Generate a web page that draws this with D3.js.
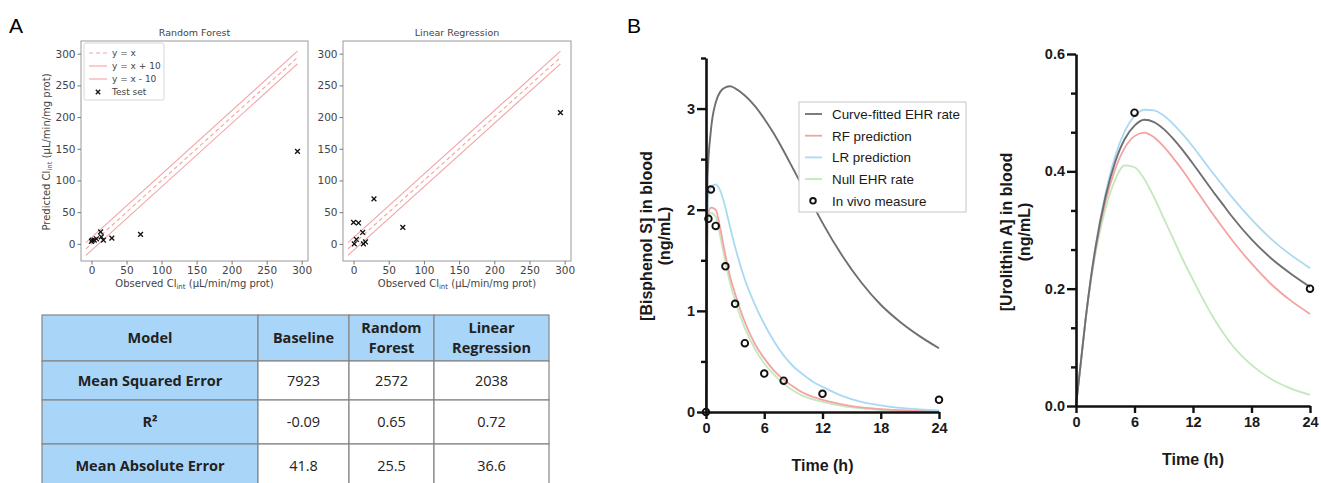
<!DOCTYPE html>
<html>
<head>
<meta charset="UTF-8">
<title>CLint prediction and PK simulation</title>
<script src="https://d3js.org/d3.v7.min.js"></script>
<style>
  body {margin:0; background:#fff;}
  svg {display:block;}
  .mpl text {font-family:"DejaVu Sans", sans-serif; fill:#444;}
  .prism text {font-family:"Liberation Sans", Arial, sans-serif; font-weight:bold; fill:#1a1a1a;}
  .tbl text {font-family:"Open Sans", Lato, sans-serif; fill:#222;}
</style>
</head>
<body>
<div id="fig"></div>
<script>

// ---- panel A: observed vs predicted CLint (test set)
var observed    = [0, 1, 4, 7, 13, 14, 17, 29, 70, 294];
var rfPredicted = [4, 6, 6, 8, 19, 11, 6, 9, 15, 146];
var lrPredicted = [34, 0, 7, 33, 18, 0, 3, 71, 26, 207];
var refOffsets  = [0, 10, -10];
var refSpan     = [-8, 294];
var clTicks     = [0, 50, 100, 150, 200, 250, 300];
var clLegend    = ["y = x", "y = x + 10", "y = x - 10", "Test set"];

// ---- panel A: metrics table
var tableHeader = ["Model", "Baseline", "Random\nForest", "Linear\nRegression"];
var metricNames = ["Mean Squared Error", "R²", "Mean Absolute Error"];
var baselineVals = ["7923", "-0.09", "41.8"];
var rfVals       = ["2572", "0.65", "25.5"];
var lrVals       = ["2038", "0.72", "36.6"];

// ---- panel B: Bisphenol S
var bpsTime  = [0, 0.15, 0.5, 1, 1.5, 2, 2.5, 3, 4, 5, 6, 7, 8, 9, 10, 11, 12, 14, 16, 18, 20, 22, 24];
var bpsFit   = [0, 2.3, 2.78, 3.06, 3.17, 3.21, 3.22, 3.2, 3.13, 3.03, 2.9, 2.75, 2.58, 2.4, 2.22, 2.05, 1.87, 1.55, 1.28, 1.06, 0.89, 0.75, 0.63];
var bpsRF    = [0, 1.9, 2.02, 2.0, 1.8, 1.55, 1.33, 1.17, 0.89, 0.68, 0.53, 0.41, 0.32, 0.25, 0.19, 0.15, 0.12, 0.075, 0.045, 0.028, 0.018, 0.011, 0.007];
var bpsLR    = [0, 2.1, 2.22, 2.25, 2.18, 2.02, 1.82, 1.63, 1.31, 1.07, 0.87, 0.7, 0.56, 0.45, 0.37, 0.3, 0.25, 0.16, 0.1, 0.065, 0.04, 0.025, 0.015];
var bpsNull  = [0, 1.88, 1.97, 1.93, 1.72, 1.48, 1.27, 1.1, 0.83, 0.63, 0.48, 0.37, 0.28, 0.21, 0.16, 0.125, 0.1, 0.06, 0.035, 0.02, 0.012, 0.007, 0.004];
var bpsObsTime = [0, 0.25, 0.5, 1, 2, 3, 4, 6, 8, 12, 24];
var bpsObs     = [0, 1.91, 2.2, 1.84, 1.44, 1.07, 0.68, 0.38, 0.31, 0.18, 0.12];

// ---- panel B: Urolithin A
var uroTime = [0, 0.5, 1, 1.5, 2, 3, 4, 5, 6, 7, 8, 9, 10, 11, 12, 13, 14, 15, 16, 18, 20, 22, 24];
var uroFit  = [0, 0.075, 0.15, 0.215, 0.27, 0.355, 0.415, 0.455, 0.478, 0.488, 0.484, 0.472, 0.455, 0.435, 0.413, 0.39, 0.367, 0.345, 0.323, 0.284, 0.252, 0.226, 0.203];
var uroRF   = [0, 0.075, 0.15, 0.213, 0.266, 0.347, 0.403, 0.44, 0.46, 0.466, 0.458, 0.442, 0.422, 0.4, 0.376, 0.352, 0.328, 0.305, 0.283, 0.243, 0.208, 0.18, 0.157];
var uroLR   = [0, 0.075, 0.15, 0.215, 0.272, 0.36, 0.425, 0.468, 0.494, 0.505, 0.504, 0.495, 0.48, 0.462, 0.442, 0.42, 0.398, 0.377, 0.356, 0.318, 0.285, 0.258, 0.235];
var uroNull = [0, 0.075, 0.148, 0.21, 0.26, 0.335, 0.385, 0.41, 0.407, 0.387, 0.356, 0.32, 0.284, 0.248, 0.215, 0.183, 0.153, 0.127, 0.104, 0.07, 0.046, 0.03, 0.019];
var uroObsTime = [6, 24];
var uroObs     = [0.50, 0.20];

var timeTicks = [0, 6, 12, 18, 24];
var seriesNames = ["Curve-fitted EHR rate", "RF prediction", "LR prediction", "Null EHR rate", "In vivo measure"];
var seriesColors = ["#6f6f6f", "#f2a3a3", "#a9d9f3", "#c4e8bd"];

var pink = "#f2a3a3";

var svg = d3.select("#fig").append("svg")
    .attr("width", 1321)
    .attr("height", 483);

svg.append("text").attr("x", 9).attr("y", 33)
    .style("font-family", "Liberation Sans, Arial, sans-serif").style("font-size", "21px").text("A");
svg.append("text").attr("x", 627).attr("y", 33)
    .style("font-family", "Liberation Sans, Arial, sans-serif").style("font-size", "21px").text("B");

// ---------- scatter panels
function scatter(title, pred, left, right, showLegend) {
    var g = svg.append("g").attr("class", "mpl");
    var x = d3.scaleLinear().domain([-15, 309]).range([left, right]);
    var y = d3.scaleLinear().domain([-27, 320]).range([261, 41]);

    var line = d3.line().x(function(d) {return x(d[0])}).y(function(d) {return y(d[1])});
    refOffsets.forEach(function(off) {
        g.append("path")
            .attr("d", line(refSpan.map(function(v) {return [v, v + off]})))
            .attr("fill", "none")
            .attr("stroke", pink)
            .attr("stroke-width", 1.1)
            .attr("stroke-dasharray", off == 0 ? "4,3" : null);
    });

    g.selectAll(".pt").data(observed).enter().append("path")
        .attr("class", "pt")
        .attr("transform", function(d, i) {return "translate(" + x(d) + "," + y(pred[i]) + ")"})
        .attr("d", "M-2.4,-2.4L2.4,2.4M-2.4,2.4L2.4,-2.4")
        .attr("stroke", "#111").attr("stroke-width", 1.3);

    g.append("rect").attr("x", left).attr("y", 41)
        .attr("width", right - left).attr("height", 220)
        .attr("fill", "none").attr("stroke", "#9a9a9a").attr("stroke-width", 1);

    var xa = g.append("g").attr("transform", "translate(0,261)")
        .call(d3.axisBottom(x).tickValues(clTicks).tickSize(3.5).tickPadding(2));
    var ya = g.append("g").attr("transform", "translate(" + left + ",0)")
        .call(d3.axisLeft(y).tickValues(clTicks).tickSize(3.5).tickPadding(2));
    [xa, ya].forEach(function(a) {
        a.select(".domain").remove();
        a.selectAll("line").attr("stroke", "#777");
        a.selectAll("text").style("font-size", "10.5px").style("font-family", null).attr("fill", "#444");
    });

    g.append("text").attr("x", (left + right) / 2).attr("y", 36)
        .attr("text-anchor", "middle").style("font-size", "9.5px").text(title);

    var xl = g.append("text").attr("x", (left + right) / 2).attr("y", 287)
        .attr("text-anchor", "middle").style("font-size", "10px");
    xl.append("tspan").text("Observed Cl");
    xl.append("tspan").attr("dy", 2).style("font-size", "7px").text("int");
    xl.append("tspan").attr("dy", -2).text(" (µL/min/mg prot)");

    if (showLegend) {
        var yl = g.append("text").attr("transform", "translate(50,152) rotate(-90)")
            .attr("text-anchor", "middle").style("font-size", "10px");
        yl.append("tspan").text("Predicted Cl");
        yl.append("tspan").attr("dy", 2).style("font-size", "7px").text("int");
        yl.append("tspan").attr("dy", -2).text(" (µL/min/mg prot)");

        var lg = g.append("g").attr("transform", "translate(84,43)");
        lg.append("rect").attr("width", 80).attr("height", 57).attr("rx", 2)
            .attr("fill", "#fff").attr("fill-opacity", 0.85).attr("stroke", "#d6d6d6");
        clLegend.forEach(function(name, i) {
            var yy = 10 + i * 13;
            if (i < 3) {
                lg.append("line").attr("x1", 5).attr("x2", 23).attr("y1", yy).attr("y2", yy)
                    .attr("stroke", pink).attr("stroke-width", 1.1)
                    .attr("stroke-dasharray", i == 0 ? "4,3" : null);
            } else {
                lg.append("path").attr("transform", "translate(14," + yy + ")")
                    .attr("d", "M-2.2,-2.2L2.2,2.2M-2.2,2.2L2.2,-2.2")
                    .attr("stroke", "#111").attr("stroke-width", 1.3);
            }
            lg.append("text").attr("x", 28).attr("y", yy + 3.2).style("font-size", "9px").text(name);
        });
    }
}

scatter("Random Forest", rfPredicted, 81, 308, true);
scatter("Linear Regression", lrPredicted, 343, 571, false);

// ---------- metrics table
var colEdges = [42, 258, 349, 434, 549];
var rowEdges = [315, 361, 400, 444, 487];
var tableBody = metricNames.map(function(m, i) {return [m, baselineVals[i], rfVals[i], lrVals[i]]});
var tableCells = [tableHeader].concat(tableBody);

var tb = svg.append("g").attr("class", "tbl");
tableCells.forEach(function(row, r) {
    row.forEach(function(cell, c) {
        var x0 = colEdges[c], x1 = colEdges[c + 1], y0 = rowEdges[r], y1 = rowEdges[r + 1];
        tb.append("rect").attr("x", x0).attr("y", y0).attr("width", x1 - x0).attr("height", y1 - y0)
            .attr("fill", (r == 0 || c == 0) ? "#a9d5f8" : "#fff")
            .attr("stroke", "#858585").attr("stroke-width", 1.2);
        var lines = cell.split("\n");
        var cy = (y0 + y1) / 2;
        var t = tb.append("text").attr("text-anchor", "middle")
            .style("font-size", "14.5px")
            .style("font-weight", (r == 0 || c == 0) ? "bold" : "normal");
        lines.forEach(function(s, k) {
            t.append("tspan").attr("x", (x0 + x1) / 2)
                .attr("y", cy + 5.2 + (k - (lines.length - 1) / 2) * 20)
                .text(s);
        });
    });
});

// ---------- PK panels
function pkPanel(o) {
    var g = svg.append("g").attr("class", "prism");
    var x = d3.scaleLinear().domain([0, 24]).range([o.left, o.right]);
    var y = d3.scaleLinear().domain([0, o.ymax]).range([o.bottom, o.top]);

    var line = d3.line()
        .x(function(d) {return x(d[0])})
        .y(function(d) {return y(d[1])})
        .curve(d3.curveMonotoneX);

    var order = [3, 1, 2, 0];
    order.forEach(function(k) {
        g.append("path")
            .attr("d", line(o.time.map(function(t, i) {return [t, o.series[k][i]]})))
            .attr("fill", "none")
            .attr("stroke", seriesColors[k])
            .attr("stroke-width", k == 0 ? 1.9 : 1.8);
    });

    g.selectAll(".obs").data(o.obsTime).enter().append("circle")
        .attr("cx", function(d) {return x(d)})
        .attr("cy", function(d, i) {return y(o.obs[i])})
        .attr("r", 3.3)
        .attr("fill", "none").attr("stroke", "#111").attr("stroke-width", 1.9);

    var ya = g.append("g").attr("transform", "translate(" + o.left + ",0)")
        .call(d3.axisLeft(y).tickValues(o.yTicks).tickFormat(o.fmt).tickSize(9).tickPadding(2).tickSizeOuter(0));
    var ym = g.append("g").attr("transform", "translate(" + o.left + ",0)")
        .call(d3.axisLeft(y).tickValues(o.yMinor).tickFormat("").tickSize(5).tickSizeOuter(0));
    var xa = g.append("g").attr("transform", "translate(0," + o.bottom + ")")
        .call(d3.axisBottom(x).tickValues(timeTicks).tickSize(7).tickPadding(4).tickSizeOuter(0));
    [ya, ym, xa].forEach(function(a) {
        a.select(".domain").attr("stroke", "#111").attr("stroke-width", 2.6);
        a.selectAll("line").attr("stroke", "#111").attr("stroke-width", 2.4);
        a.selectAll("text").style("font-size", "14.5px").style("font-family", null).attr("fill", "#1a1a1a");
    });
    ym.select(".domain").remove();

    g.append("text").attr("x", (o.left + o.right) / 2).attr("y", o.bottom + 59)
        .attr("text-anchor", "middle").style("font-size", "16px").text("Time (h)");

    var yl = g.append("text").attr("transform", "translate(" + o.labelX + "," + o.labelY + ") rotate(-90)")
        .attr("text-anchor", "middle").style("font-size", "16px");
    yl.append("tspan").attr("x", 0).attr("y", 0).text(o.label);
    yl.append("tspan").attr("x", 0).attr("y", 18).text("(ng/mL)");
    return g;
}

var bps = pkPanel({
    left: 706, right: 939, top: 58, bottom: 412, ymax: 3.5,
    yTicks: [0, 1, 2, 3], yMinor: [0.5, 1.5, 2.5, 3.5], fmt: d3.format("d"),
    time: bpsTime, series: [bpsFit, bpsRF, bpsLR, bpsNull],
    obsTime: bpsObsTime, obs: bpsObs,
    label: "[Bisphenol S] in blood", labelX: 652, labelY: 236
});

var uroMinor = [1, 2, 4, 5, 7, 8].map(function(k) {return k * 0.2 / 3});
pkPanel({
    left: 1076, right: 1310, top: 54, bottom: 406, ymax: 0.6,
    yTicks: [0, 0.2, 0.4, 0.6], yMinor: uroMinor, fmt: d3.format(".1f"),
    time: uroTime, series: [uroFit, uroRF, uroLR, uroNull],
    obsTime: uroObsTime, obs: uroObs,
    label: "[Urolithin A] in blood", labelX: 1012, labelY: 232
});

// legend for panel B
var lgB = bps.append("g").attr("transform", "translate(799,102)");
lgB.append("rect").attr("width", 167).attr("height", 110)
    .attr("fill", "#fff").attr("stroke", "#cfcfcf").attr("stroke-width", 1.2);
seriesNames.forEach(function(name, i) {
    var yy = 12 + i * 21.7;
    if (i < 4) {
        lgB.append("line").attr("x1", 6).attr("x2", 23).attr("y1", yy).attr("y2", yy)
            .attr("stroke", seriesColors[i]).attr("stroke-width", 1.8);
    } else {
        lgB.append("circle").attr("cx", 14).attr("cy", yy).attr("r", 2.8)
            .attr("fill", "none").attr("stroke", "#111").attr("stroke-width", 1.9);
    }
    lgB.append("text").attr("x", 33).attr("y", yy + 4.8)
        .style("font-size", "13.4px").style("font-weight", "normal").attr("fill", "#333")
        .text(name);
});

</script>
</body>
</html>
